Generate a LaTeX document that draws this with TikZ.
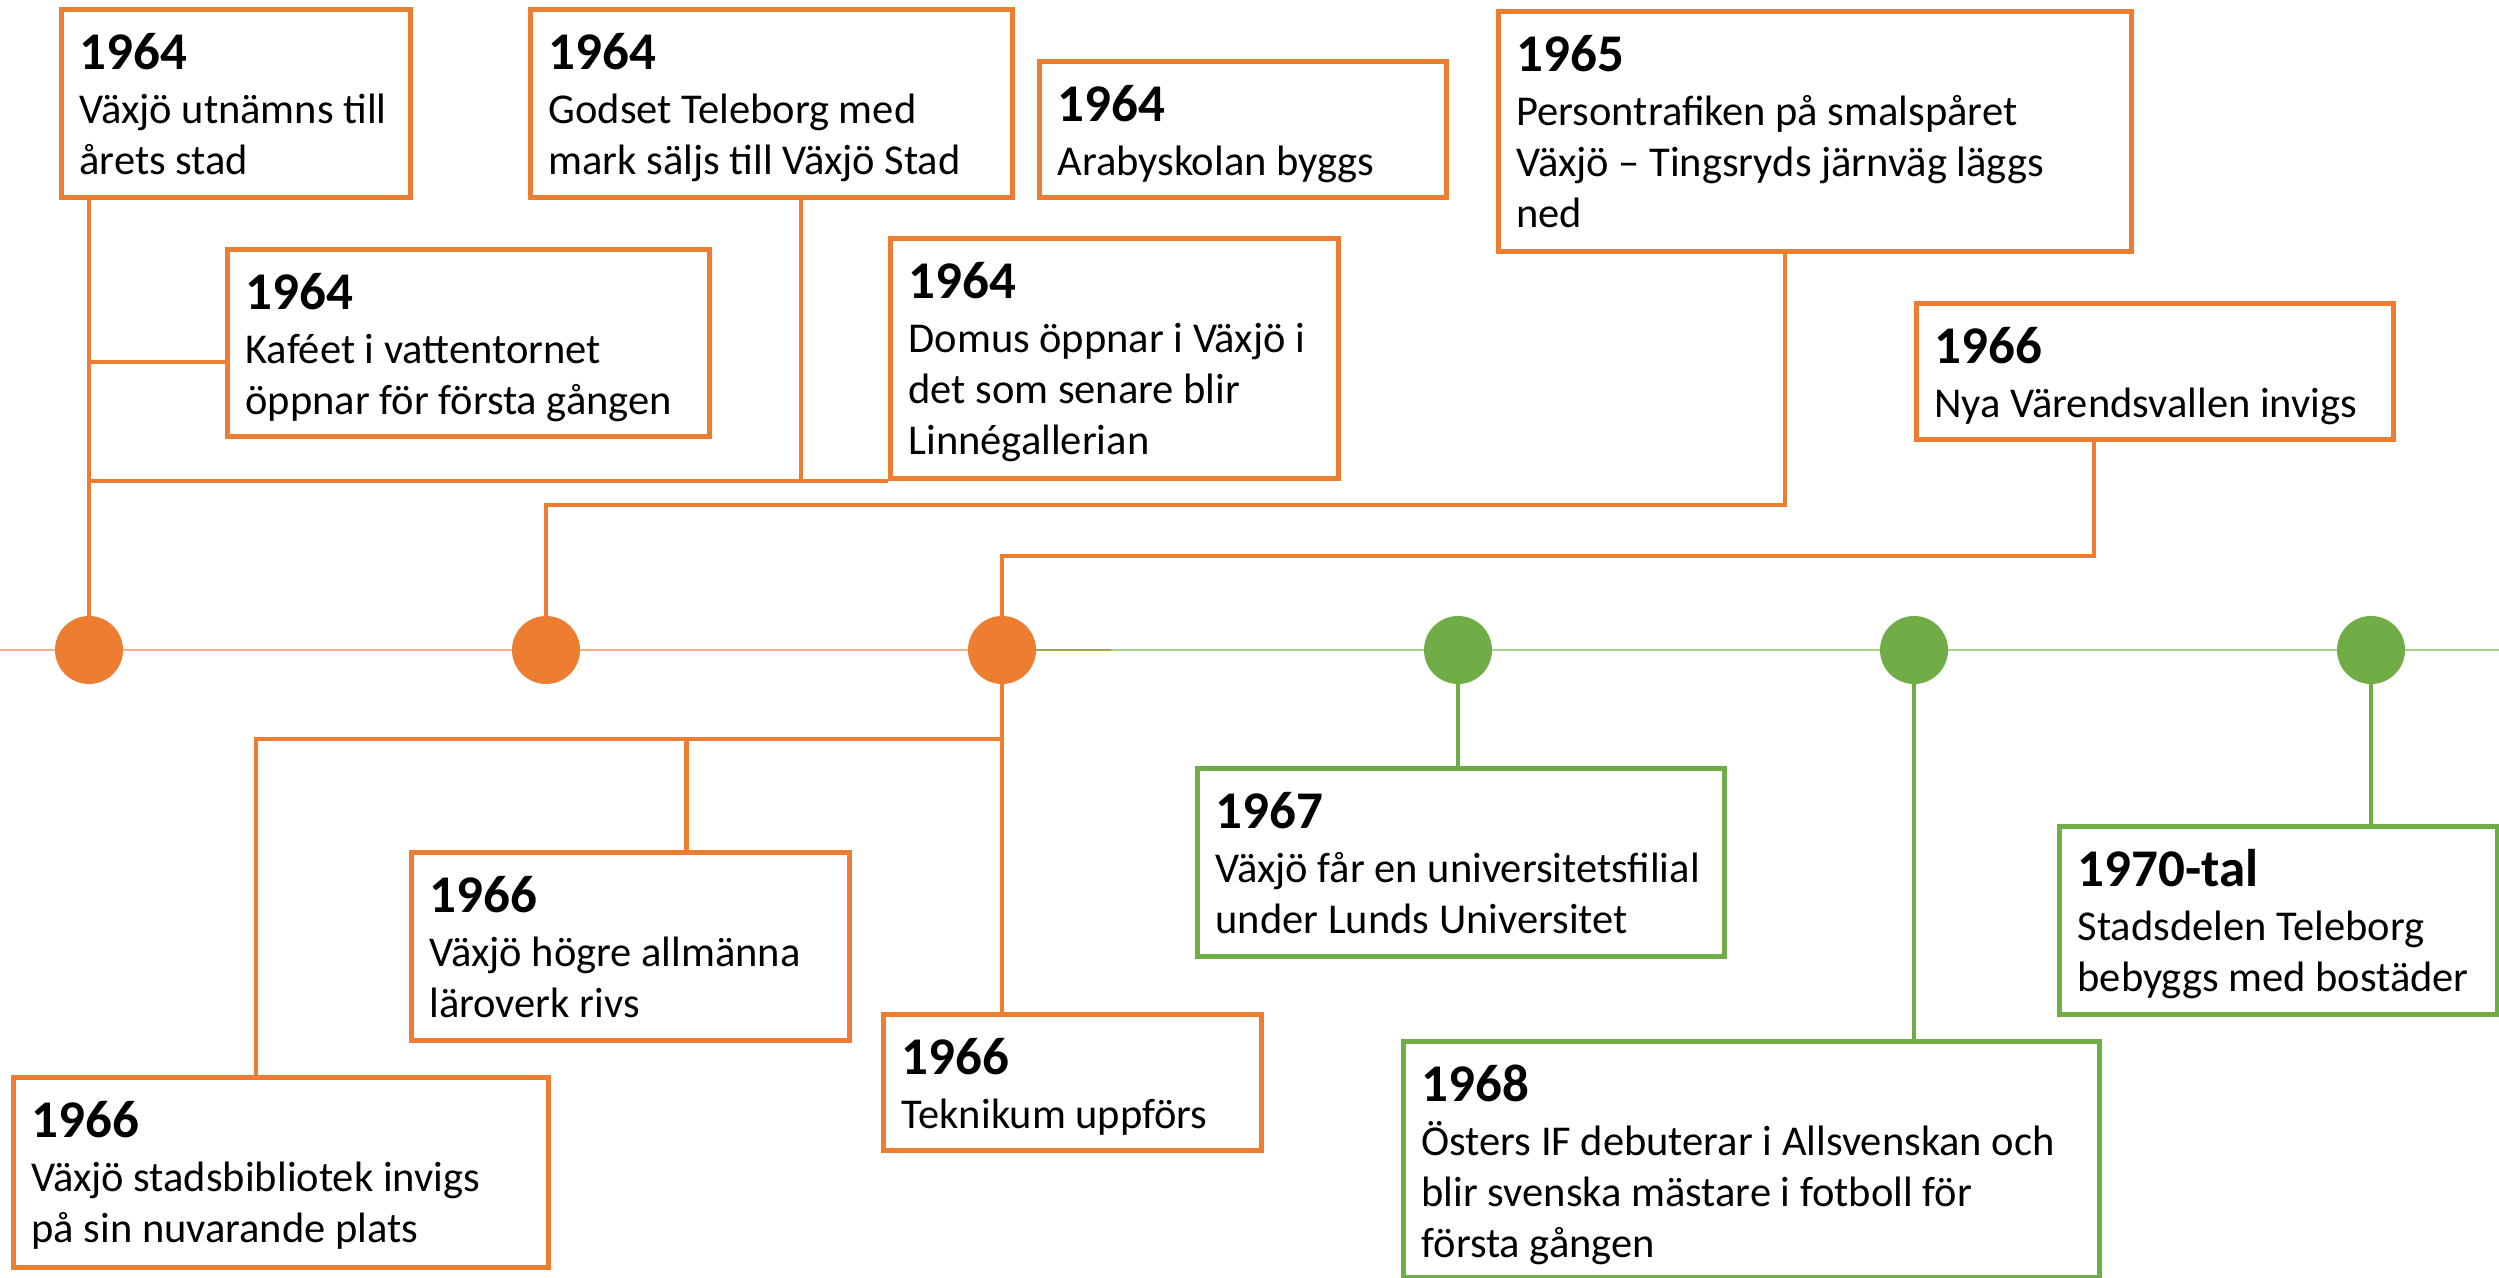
\documentclass[tikz,border=0pt]{standalone}
\usepackage{fontspec}
\setmainfont{Carlito}
\usetikzlibrary{calc,backgrounds}
\definecolor{evorange}{HTML}{ED7D31}
\definecolor{evgreen}{HTML}{70AD47}
\definecolor{lineorange}{HTML}{F4B183}
\definecolor{linegreen}{HTML}{A9D18E}
\definecolor{lineolive}{HTML}{9BA54C}
\newdimen\pxu \pxu=0.5pt
\newcommand\evt[4]{\parbox[t][#2\pxu][t]{#1\pxu}{\leftskip=9pt\rightskip=0pt plus 1fil\parindent=0pt\rule{0pt}{30pt}{\fontsize{26.5}{26.5}\bfseries\selectfont #3}\par\vskip 1.5pt{\fontsize{21.25}{25.5}\selectfont #4\par}}}
\tikzset{
  evbox/.style={draw=#1, line width=2.5pt, inner sep=0pt, anchor=north west, fill=white},
  conn/.style={draw=#1, line width=2.2pt},
  dot/.style={circle, fill=#1, inner sep=0pt, minimum size=34pt},
}
\begin{document}
\begin{tikzpicture}[x=0.5pt,y=-0.5pt]
\useasboundingbox (0,0) rectangle (2499,1278);
% timeline dots
\node[dot=evorange] (c1) at (89,650) {};
\node[dot=evorange] (c2) at (546,650) {};
\node[dot=evorange] (c3) at (1002,650) {};
\node[dot=evgreen] (c4) at (1458,650) {};
\node[dot=evgreen] (c5) at (1914,650) {};
\node[dot=evgreen] (c6) at (2371,650) {};
\coordinate (tl0) at (0,650);
\coordinate (tl1) at (2499,650);
\coordinate (olv) at (1111,650);
\begin{scope}[on background layer]
\draw[lineorange, line width=1.1pt] (tl0) -- (c3.center);
\draw[lineolive, line width=1.1pt] (c3.center) -- (olv);
\draw[linegreen, line width=1.1pt] (olv) -- (tl1);
\end{scope}
% boxes above
\node[evbox=evorange] (A) at (59,7) {\evt{349}{188}{1964}{\mbox{Växjö utnämns till}\\\mbox{årets stad}}};
\node[evbox=evorange] (B) at (225,247) {\evt{482}{187}{1964}{\mbox{Kaféet i vattentornet}\\\mbox{öppnar för första gången}}};
\node[evbox=evorange] (C) at (528,7) {\evt{482}{188}{1964}{\mbox{Godset Teleborg med}\\\mbox{mark säljs till Växjö Stad}}};
\node[evbox=evorange] (D) at (1037,59) {\evt{407}{136}{1964}{\mbox{Arabyskolan byggs}}};
\node[evbox=evorange] (E) at (888,236) {\evt{448}{240}{1964}{\mbox{Domus öppnar i Växjö i}\\\mbox{det som senare blir}\\\mbox{Linnégallerian}}};
\node[evbox=evorange] (F) at (1496,9) {\evt{633}{240}{1965}{\mbox{Persontrafiken på smalspåret}\\\mbox{Växjö – Tingsryds järnväg läggs}\\\mbox{ned}}};
\node[evbox=evorange] (G) at (1914,301) {\evt{477}{136}{1966}{\mbox{Nya Värendsvallen invigs}}};
% boxes below
\node[evbox=evorange] (H) at (11,1075) {\evt{535}{190}{1966}{\mbox{Växjö stadsbibliotek invigs}\\\mbox{på sin nuvarande plats}}};
\node[evbox=evorange] (I) at (409,850) {\evt{438}{188}{1966}{\mbox{Växjö högre allmänna}\\\mbox{läroverk rivs}}};
\node[evbox=evorange] (J) at (881,1012) {\evt{378}{136}{1966}{\mbox{Teknikum uppförs}}};
\node[evbox=evgreen] (K) at (1195,766) {\evt{527}{188}{1967}{\mbox{Växjö får en universitetsfilial}\\\mbox{under Lunds Universitet}}};
\node[evbox=evgreen] (L) at (1401,1039) {\evt{696}{236}{1968}{\mbox{Östers IF debuterar i Allsvenskan och}\\\mbox{blir svenska mästare i fotboll för}\\\mbox{första gången}}};
\node[evbox=evgreen] (M) at (2057,824) {\evt{438}{188}{1970-tal}{\mbox{Stadsdelen Teleborg}\\\mbox{bebyggs med bostäder}}};
% attachment points
\coordinate (Bw) at ($(B.north west)!0.6!(B.south west)$);
\coordinate (Cs) at ($(C.south west)!0.561!(C.south east)$);
\coordinate (Fs) at ($(F.south west)!0.453!(F.south east)$);
\coordinate (Gs) at ($(G.south west)!0.373!(G.south east)$);
\coordinate (Hn) at ($(H.north west)!0.454!(H.north east)$);
\coordinate (In) at ($(I.north west)!0.626!(I.north east)$);
\coordinate (r1) at (0,505);
\coordinate (r2) at (0,556);
\coordinate (r3) at (0,739);
% connectors
\draw[conn=evorange] (A.south -| c1) -- (c1.north);
\draw[conn=evorange] (Bw) -- (Bw -| c1);
\draw[conn=evorange] (Cs) -- (Cs |- E.south west);
\draw[conn=evorange] (E.south west) -- (E.south west -| c1);
\draw[conn=evorange] (Fs) |- (r1 -| c2) -- (c2.north);
\draw[conn=evorange] (Gs) |- (r2 -| c3) -- (c3.north);
\draw[conn=evorange] (c3.south) -- (c3 |- J.north);
\draw[conn=evorange] (c3 |- r3) -| (Hn);
\draw[conn=evorange] (In) -- (In |- r3);
\draw[conn=evgreen] (c4.south) -- (c4 |- K.north);
\draw[conn=evgreen] (c5.south) -- (c5 |- L.north);
\draw[conn=evgreen] (c6.south) -- (c6 |- M.north);
\end{tikzpicture}
\end{document}
